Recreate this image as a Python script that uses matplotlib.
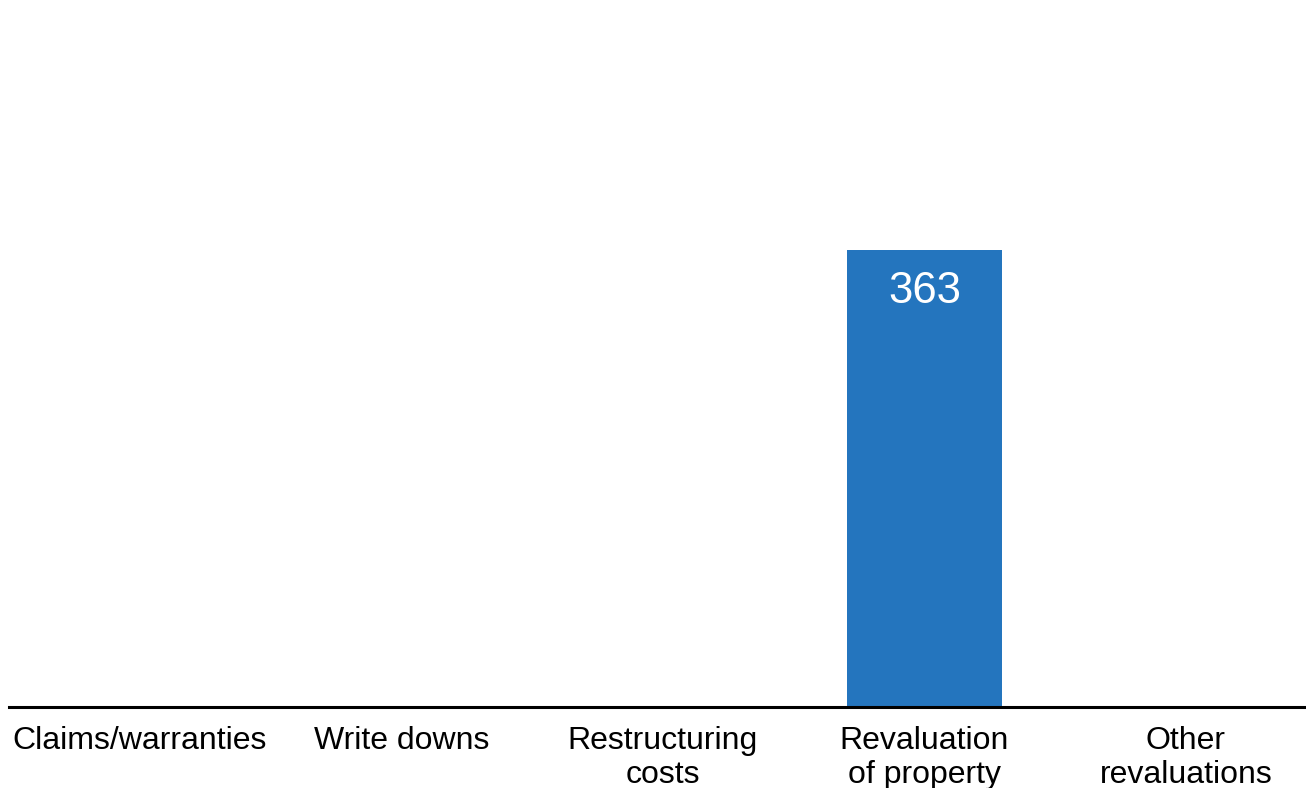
import matplotlib
matplotlib.use("Agg")
import matplotlib.pyplot as plt

categories = ["Claims/warranties", "Write downs", "Restructuring\ncosts",
              "Revaluation\nof property", "Other\nrevaluations"]
values = [0, 0, 0, 363, 0]
labels = ["", "", "", "363", ""]

plt.rcParams['font.family'] = ['Liberation Sans', 'DejaVu Sans']

W, H = 1306, 788
fig = plt.figure(figsize=(W/100, H/100), dpi=100)
x0, x1 = 9.25, 1316.75
y_base = 707
ax = fig.add_axes([x0/W, (H - y_base)/H, (x1 - x0)/W, y_base/H])

xs = list(range(len(categories)))
bars = ax.bar(xs, values, width=0.59, color="#2475be", zorder=2)
ax.set_xlim(-0.5, len(categories) - 0.5)
ax.set_ylim(0, 363 * 707 / 457)

for b, lab in zip(bars, labels):
    if lab:
        ax.text(b.get_x() + b.get_width()/2, b.get_height() - 363*21/457, lab,
                ha="center", va="top", color="white", fontsize=31.5)

ax.set_xticks(xs)
ax.set_xticklabels(categories, fontsize=23, linespacing=1.17)
ax.tick_params(axis='x', length=0, pad=14)
ax.set_yticks([])
for s in ["top", "right", "left"]:
    ax.spines[s].set_visible(False)
ax.spines["bottom"].set_linewidth(2.2)
ax.spines["bottom"].set_color("black")
ax.patch.set_alpha(0)

fig.savefig("out.png", dpi=100)
